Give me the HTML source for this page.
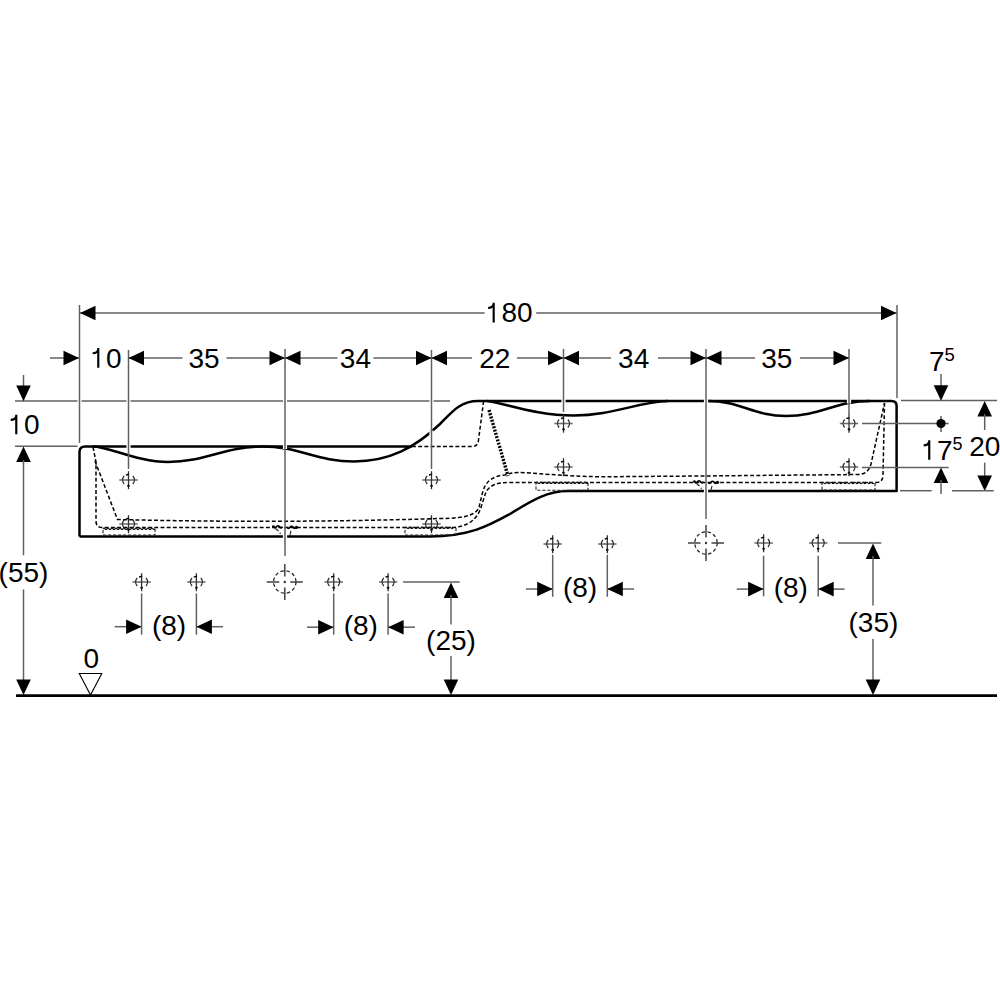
<!DOCTYPE html>
<html><head><meta charset="utf-8"><style>
html,body{margin:0;padding:0;background:#fff;}
svg{display:block;}
text{font-family:"Liberation Sans",sans-serif;fill:#000;}
</style></head><body>
<svg width="1000" height="1000" viewBox="0 0 1000 1000">
<rect width="1000" height="1000" fill="#fff"/>
<path d="M79.5,536.5 V452 Q79.5,446.5 85,446.5 H412 M354,461.5 C389,461.5 415,447.75 440,424 C452,412 460,401 478,401 H891.5 Q896.6,401 896.6,406 V491 H568 C548,491 533,499.5 510,514 C490,525 470,536.5 430,536.5 H79.5" fill="none" stroke="#000" stroke-width="2.5" stroke-linejoin="round"/>
<path d="M93,446.5 C108,446.5 138,462 168,462 M168,462 C205.6,462 224.4,446.5 262,446.5 M262,446.5 C298.8,446.5 317.2,461.5 354,461.5 M487,401 C505,403 535,415.5 574,415.5 C612,415.5 638,402 668,401 M708,401 C739.2,401 754.8,416 786,416 M786,416 C819.6,416 836.4,401 870,401 " fill="none" stroke="#000" stroke-width="2.5"/>
<path d="M93,447 L96,462 V521 Q96,527.5 102.5,527.5 H450 C462,527.5 470,524 476,517 C481,511 483,500 486,492 C490,485 497,482.5 510,482.5 H876 Q883,482.5 883,475 L884.5,403" stroke="#000" stroke-width="1.5" fill="none" stroke-dasharray="3.9 2.3"/>
<path d="M95,461 L117.5,519.5 Q280,523.5 440,518.5 C470,518.5 477,513 479,507 C481,500 482,492 485,486 C489,479 496,475.5 505,475 C510,473.5 513,472.5 518,472.5 C530,472.5 560,476 600,476.8 L700,476 L858,474.5 C865,474.5 869,471 871,464 L884.5,403" stroke="#000" stroke-width="1.5" fill="none" stroke-dasharray="3.9 2.3"/>
<path d="M412,446.5 H472 Q478,446.5 478.5,440 L483.5,402" stroke="#000" stroke-width="1.5" fill="none" stroke-dasharray="3.9 2.3"/>
<path d="M489,410 L508,476" stroke="#000" stroke-width="3.4" stroke-dasharray="2 1.4" fill="none"/>
<path d="M155,528.8 V535 H103 V528.8" stroke="#222" stroke-width="1.1" fill="none" stroke-dasharray="3.2 1.8"/>
<path d="M103,528.8 q1,-1.3 2,0 t2,0 t2,0 t2,0 t2,0 t2,0 t2,0 t2,0 t2,0 t2,0 t2,0 t2,0 t2,0 t2,0 t2,0 t2,0 t2,0 t2,0 t2,0 t2,0 t2,0 t2,0 t2,0 t2,0 t2,0 t2,0" stroke="#1a1a1a" stroke-width="1.2" fill="none"/>
<path d="M456,527.8 V535 H405 V527.8" stroke="#222" stroke-width="1.1" fill="none" stroke-dasharray="3.2 1.8"/>
<path d="M405,527.8 q1,-1.3 2,0 t2,0 t2,0 t2,0 t2,0 t2,0 t2,0 t2,0 t2,0 t2,0 t2,0 t2,0 t2,0 t2,0 t2,0 t2,0 t2,0 t2,0 t2,0 t2,0 t2,0 t2,0 t2,0 t2,0" stroke="#1a1a1a" stroke-width="1.2" fill="none"/>
<path d="M588,482.8 V490.3 H536 V482.8" stroke="#222" stroke-width="1.1" fill="none" stroke-dasharray="3.2 1.8"/>
<path d="M536,482.8 q1,-1.3 2,0 t2,0 t2,0 t2,0 t2,0 t2,0 t2,0 t2,0 t2,0 t2,0 t2,0 t2,0 t2,0 t2,0 t2,0 t2,0 t2,0 t2,0 t2,0 t2,0 t2,0 t2,0 t2,0 t2,0 t2,0 t2,0" stroke="#1a1a1a" stroke-width="1.2" fill="none"/>
<path d="M875,483 V490 H822 V483" stroke="#222" stroke-width="1.1" fill="none" stroke-dasharray="3.2 1.8"/>
<path d="M822,483 q1,-1.3 2,0 t2,0 t2,0 t2,0 t2,0 t2,0 t2,0 t2,0 t2,0 t2,0 t2,0 t2,0 t2,0 t2,0 t2,0 t2,0 t2,0 t2,0 t2,0 t2,0 t2,0 t2,0 t2,0 t2,0 t2,0 t2,0" stroke="#1a1a1a" stroke-width="1.2" fill="none"/>
<path d="M273.5,526.8 q1.5,2.2 3,0 t3,0 t3,0 M287,527.3 q1.5,2.2 3,0 t3,0 t3,0" stroke="#000" stroke-width="1.6" fill="none"/>
<circle cx="273.4" cy="526.5999999999999" r="1.4" fill="#000"/><circle cx="296.5" cy="527.3" r="1.6" fill="#000"/>
<path d="M275.5,528.5 l3,2.5 M291,530.8 l-1.2,5 M279.5,533.3 h1.5" stroke="#222" stroke-width="1.1" fill="none"/>
<path d="M694.5,481.8 q1.5,2.2 3,0 t3,0 t3,0 M708,482.3 q1.5,2.2 3,0 t3,0 t3,0" stroke="#000" stroke-width="1.6" fill="none"/>
<circle cx="694.4" cy="481.6" r="1.4" fill="#000"/><circle cx="717.5" cy="482.3" r="1.6" fill="#000"/>
<path d="M696.5,483.5 l3,2.5 M712,485.8 l-1.2,5 M700.5,488.3 h1.5" stroke="#222" stroke-width="1.1" fill="none"/>
<line x1="119.3" y1="480" x2="137.7" y2="480" stroke="#707070" stroke-width="1.6" />
<line x1="128.5" y1="471.2" x2="128.5" y2="489.2" stroke="#333" stroke-width="1.3" />
<path d="M124.12,476.05 A5.9,5.9 0 0 0 124.12,483.95 M132.88,476.05 A5.9,5.9 0 0 1 132.88,483.95" stroke="#2a2a2a" stroke-width="1.3" fill="none"/>
<path d="M125.90,474.90 L129.10,474.30" stroke="#111" stroke-width="1.5"/>
<path d="M128.5,484.2 l1.6,1.6 l-1.6,1.6 l-1.6,-1.6 z" fill="#111"/>
<line x1="119.3" y1="524" x2="137.7" y2="524" stroke="#707070" stroke-width="1.6" />
<line x1="128.5" y1="515.1999999999999" x2="128.5" y2="533.2" stroke="#333" stroke-width="1.3" />
<path d="M124.12,520.05 A5.9,5.9 0 0 0 124.12,527.95 M132.88,520.05 A5.9,5.9 0 0 1 132.88,527.95" stroke="#2a2a2a" stroke-width="1.3" fill="none"/>
<path d="M125.90,518.90 L129.10,518.30" stroke="#111" stroke-width="1.5"/>
<path d="M128.5,528.2 l1.6,1.6 l-1.6,1.6 l-1.6,-1.6 z" fill="#111"/>
<line x1="422.3" y1="480" x2="440.7" y2="480" stroke="#707070" stroke-width="1.6" />
<line x1="431.5" y1="471.2" x2="431.5" y2="489.2" stroke="#333" stroke-width="1.3" />
<path d="M427.12,476.05 A5.9,5.9 0 0 0 427.12,483.95 M435.88,476.05 A5.9,5.9 0 0 1 435.88,483.95" stroke="#2a2a2a" stroke-width="1.3" fill="none"/>
<path d="M428.90,474.90 L432.10,474.30" stroke="#111" stroke-width="1.5"/>
<path d="M431.5,484.2 l1.6,1.6 l-1.6,1.6 l-1.6,-1.6 z" fill="#111"/>
<line x1="422.3" y1="524" x2="440.7" y2="524" stroke="#707070" stroke-width="1.6" />
<line x1="431.5" y1="515.1999999999999" x2="431.5" y2="533.2" stroke="#333" stroke-width="1.3" />
<path d="M427.12,520.05 A5.9,5.9 0 0 0 427.12,527.95 M435.88,520.05 A5.9,5.9 0 0 1 435.88,527.95" stroke="#2a2a2a" stroke-width="1.3" fill="none"/>
<path d="M428.90,518.90 L432.10,518.30" stroke="#111" stroke-width="1.5"/>
<path d="M431.5,528.2 l1.6,1.6 l-1.6,1.6 l-1.6,-1.6 z" fill="#111"/>
<line x1="554.3" y1="423.5" x2="572.7" y2="423.5" stroke="#707070" stroke-width="1.6" />
<line x1="563.5" y1="414.7" x2="563.5" y2="432.7" stroke="#333" stroke-width="1.3" />
<path d="M559.12,419.55 A5.9,5.9 0 0 0 559.12,427.45 M567.88,419.55 A5.9,5.9 0 0 1 567.88,427.45" stroke="#2a2a2a" stroke-width="1.3" fill="none"/>
<path d="M560.90,418.40 L564.10,417.80" stroke="#111" stroke-width="1.5"/>
<path d="M563.5,427.7 l1.6,1.6 l-1.6,1.6 l-1.6,-1.6 z" fill="#111"/>
<line x1="554.3" y1="467" x2="572.7" y2="467" stroke="#707070" stroke-width="1.6" />
<line x1="563.5" y1="458.2" x2="563.5" y2="476.2" stroke="#333" stroke-width="1.3" />
<path d="M559.12,463.05 A5.9,5.9 0 0 0 559.12,470.95 M567.88,463.05 A5.9,5.9 0 0 1 567.88,470.95" stroke="#2a2a2a" stroke-width="1.3" fill="none"/>
<path d="M560.90,461.90 L564.10,461.30" stroke="#111" stroke-width="1.5"/>
<path d="M563.5,471.2 l1.6,1.6 l-1.6,1.6 l-1.6,-1.6 z" fill="#111"/>
<line x1="839.8" y1="423.5" x2="858.2" y2="423.5" stroke="#707070" stroke-width="1.6" />
<line x1="849" y1="414.7" x2="849" y2="432.7" stroke="#333" stroke-width="1.3" />
<path d="M844.62,419.55 A5.9,5.9 0 0 0 844.62,427.45 M853.38,419.55 A5.9,5.9 0 0 1 853.38,427.45" stroke="#2a2a2a" stroke-width="1.3" fill="none"/>
<path d="M846.40,418.40 L849.60,417.80" stroke="#111" stroke-width="1.5"/>
<path d="M849,427.7 l1.6,1.6 l-1.6,1.6 l-1.6,-1.6 z" fill="#111"/>
<line x1="839.8" y1="467" x2="858.2" y2="467" stroke="#707070" stroke-width="1.6" />
<line x1="849" y1="458.2" x2="849" y2="476.2" stroke="#333" stroke-width="1.3" />
<path d="M844.62,463.05 A5.9,5.9 0 0 0 844.62,470.95 M853.38,463.05 A5.9,5.9 0 0 1 853.38,470.95" stroke="#2a2a2a" stroke-width="1.3" fill="none"/>
<path d="M846.40,461.90 L849.60,461.30" stroke="#111" stroke-width="1.5"/>
<path d="M849,471.2 l1.6,1.6 l-1.6,1.6 l-1.6,-1.6 z" fill="#111"/>
<line x1="132.4" y1="582" x2="150.79999999999998" y2="582" stroke="#707070" stroke-width="1.6" />
<line x1="141.6" y1="573.1999999999999" x2="141.6" y2="591.2" stroke="#333" stroke-width="1.3" />
<path d="M137.22,578.05 A5.9,5.9 0 0 0 137.22,585.95 M145.98,578.05 A5.9,5.9 0 0 1 145.98,585.95" stroke="#2a2a2a" stroke-width="1.3" fill="none"/>
<path d="M139.00,576.90 L142.20,576.30" stroke="#111" stroke-width="1.5"/>
<path d="M141.6,586.2 l1.6,1.6 l-1.6,1.6 l-1.6,-1.6 z" fill="#111"/>
<line x1="187.20000000000002" y1="582" x2="205.6" y2="582" stroke="#707070" stroke-width="1.6" />
<line x1="196.4" y1="573.1999999999999" x2="196.4" y2="591.2" stroke="#333" stroke-width="1.3" />
<path d="M192.02,578.05 A5.9,5.9 0 0 0 192.02,585.95 M200.78,578.05 A5.9,5.9 0 0 1 200.78,585.95" stroke="#2a2a2a" stroke-width="1.3" fill="none"/>
<path d="M193.80,576.90 L197.00,576.30" stroke="#111" stroke-width="1.5"/>
<path d="M196.4,586.2 l1.6,1.6 l-1.6,1.6 l-1.6,-1.6 z" fill="#111"/>
<line x1="324.5" y1="582" x2="342.9" y2="582" stroke="#707070" stroke-width="1.6" />
<line x1="333.7" y1="573.1999999999999" x2="333.7" y2="591.2" stroke="#333" stroke-width="1.3" />
<path d="M329.32,578.05 A5.9,5.9 0 0 0 329.32,585.95 M338.08,578.05 A5.9,5.9 0 0 1 338.08,585.95" stroke="#2a2a2a" stroke-width="1.3" fill="none"/>
<path d="M331.10,576.90 L334.30,576.30" stroke="#111" stroke-width="1.5"/>
<path d="M333.7,586.2 l1.6,1.6 l-1.6,1.6 l-1.6,-1.6 z" fill="#111"/>
<line x1="378.90000000000003" y1="582" x2="397.3" y2="582" stroke="#707070" stroke-width="1.6" />
<line x1="388.1" y1="573.1999999999999" x2="388.1" y2="591.2" stroke="#333" stroke-width="1.3" />
<path d="M383.72,578.05 A5.9,5.9 0 0 0 383.72,585.95 M392.48,578.05 A5.9,5.9 0 0 1 392.48,585.95" stroke="#2a2a2a" stroke-width="1.3" fill="none"/>
<path d="M385.50,576.90 L388.70,576.30" stroke="#111" stroke-width="1.5"/>
<path d="M388.1,586.2 l1.6,1.6 l-1.6,1.6 l-1.6,-1.6 z" fill="#111"/>
<line x1="543.5" y1="544" x2="561.9000000000001" y2="544" stroke="#707070" stroke-width="1.6" />
<line x1="552.7" y1="535.1999999999999" x2="552.7" y2="553.2" stroke="#333" stroke-width="1.3" />
<path d="M548.32,540.05 A5.9,5.9 0 0 0 548.32,547.95 M557.08,540.05 A5.9,5.9 0 0 1 557.08,547.95" stroke="#2a2a2a" stroke-width="1.3" fill="none"/>
<path d="M550.10,538.90 L553.30,538.30" stroke="#111" stroke-width="1.5"/>
<path d="M552.7,548.2 l1.6,1.6 l-1.6,1.6 l-1.6,-1.6 z" fill="#111"/>
<line x1="598.0999999999999" y1="544" x2="616.5" y2="544" stroke="#707070" stroke-width="1.6" />
<line x1="607.3" y1="535.1999999999999" x2="607.3" y2="553.2" stroke="#333" stroke-width="1.3" />
<path d="M602.92,540.05 A5.9,5.9 0 0 0 602.92,547.95 M611.68,540.05 A5.9,5.9 0 0 1 611.68,547.95" stroke="#2a2a2a" stroke-width="1.3" fill="none"/>
<path d="M604.70,538.90 L607.90,538.30" stroke="#111" stroke-width="1.5"/>
<path d="M607.3,548.2 l1.6,1.6 l-1.6,1.6 l-1.6,-1.6 z" fill="#111"/>
<line x1="754.4" y1="543" x2="772.8000000000001" y2="543" stroke="#707070" stroke-width="1.6" />
<line x1="763.6" y1="534.1999999999999" x2="763.6" y2="552.2" stroke="#333" stroke-width="1.3" />
<path d="M759.22,539.05 A5.9,5.9 0 0 0 759.22,546.95 M767.98,539.05 A5.9,5.9 0 0 1 767.98,546.95" stroke="#2a2a2a" stroke-width="1.3" fill="none"/>
<path d="M761.00,537.90 L764.20,537.30" stroke="#111" stroke-width="1.5"/>
<path d="M763.6,547.2 l1.6,1.6 l-1.6,1.6 l-1.6,-1.6 z" fill="#111"/>
<line x1="809.0" y1="543" x2="827.4000000000001" y2="543" stroke="#707070" stroke-width="1.6" />
<line x1="818.2" y1="534.1999999999999" x2="818.2" y2="552.2" stroke="#333" stroke-width="1.3" />
<path d="M813.82,539.05 A5.9,5.9 0 0 0 813.82,546.95 M822.58,539.05 A5.9,5.9 0 0 1 822.58,546.95" stroke="#2a2a2a" stroke-width="1.3" fill="none"/>
<path d="M815.60,537.90 L818.80,537.30" stroke="#111" stroke-width="1.5"/>
<path d="M818.2,547.2 l1.6,1.6 l-1.6,1.6 l-1.6,-1.6 z" fill="#111"/>
<line x1="266.8" y1="582" x2="279.3" y2="582" stroke="#333" stroke-width="1.4" />
<line x1="284.8" y1="564" x2="284.8" y2="576.5" stroke="#333" stroke-width="1.4" />
<line x1="290.3" y1="582" x2="302.8" y2="582" stroke="#333" stroke-width="1.4" />
<line x1="284.8" y1="587.5" x2="284.8" y2="600" stroke="#333" stroke-width="1.4" />
<circle cx="284.8" cy="582" r="11.2" fill="none" stroke="#222" stroke-width="1.25" stroke-dasharray="3.5 2.5"/>
<circle cx="284.8" cy="582" r="1.2" fill="#333"/>
<line x1="688" y1="543" x2="700.5" y2="543" stroke="#333" stroke-width="1.4" />
<line x1="706" y1="525" x2="706" y2="537.5" stroke="#333" stroke-width="1.4" />
<line x1="711.5" y1="543" x2="724" y2="543" stroke="#333" stroke-width="1.4" />
<line x1="706" y1="548.5" x2="706" y2="561" stroke="#333" stroke-width="1.4" />
<circle cx="706" cy="543" r="11.2" fill="none" stroke="#222" stroke-width="1.25" stroke-dasharray="3.5 2.5"/>
<circle cx="706" cy="543" r="1.2" fill="#333"/>
<rect x="282.9" y="444.0" width="4.2" height="5" fill="#fff"/>
<rect x="282.9" y="534.0" width="4.2" height="5" fill="#fff"/>
<rect x="703.9" y="398.5" width="4.2" height="5" fill="#fff"/>
<rect x="703.9" y="488.5" width="4.2" height="5" fill="#fff"/>
<rect x="561.4" y="398.5" width="4.2" height="5" fill="#fff"/>
<rect x="846.9" y="398.5" width="4.2" height="5" fill="#fff"/>
<rect x="126.4" y="444.0" width="4.2" height="5" fill="#fff"/>
<rect x="429.4" y="430.5" width="4.2" height="5" fill="#fff"/>
<line x1="79.5" y1="305" x2="79.5" y2="443" stroke="#606060" stroke-width="1.5" />
<line x1="897" y1="305" x2="897" y2="398" stroke="#606060" stroke-width="1.5" />
<line x1="79.5" y1="313" x2="484.6" y2="313" stroke="#606060" stroke-width="1.5" />
<line x1="536.2" y1="313" x2="897" y2="313" stroke="#606060" stroke-width="1.5" />
<polygon points="80.00,313.00 95.50,305.70 95.50,320.30" fill="#000"/>
<polygon points="896.50,313.00 881.00,305.70 881.00,320.30" fill="#000"/>
<path d="M493.69,322.4 V302.80 M493.69,303.80 C493.09,306.80 490.89,307.90 488.09,308.00" stroke="#000" stroke-width="2.15" fill="none"/>
<text x="501.41" y="322.4" font-size="28">8</text>
<text x="516.99" y="322.4" font-size="28">0</text>
<line x1="50" y1="358" x2="79" y2="358" stroke="#606060" stroke-width="1.5" />
<polygon points="79.00,358.00 63.50,350.70 63.50,365.30" fill="#000"/>
<path d="M98.28,367.7 V348.10 M98.28,349.10 C97.68,352.10 95.48,353.20 92.68,353.30" stroke="#000" stroke-width="2.15" fill="none"/>
<text x="106.00" y="367.7" font-size="28">0</text>
<line x1="15" y1="401" x2="77.5" y2="401" stroke="#606060" stroke-width="1.5" />
<line x1="81.5" y1="401" x2="450" y2="401" stroke="#606060" stroke-width="1.5" />
<rect x="126.5" y="399" width="4" height="4" fill="#fff"/>
<rect x="283" y="399" width="4" height="4" fill="#fff"/>
<rect x="429.5" y="399" width="4" height="4" fill="#fff"/>
<line x1="128.5" y1="350" x2="128.5" y2="469" stroke="#606060" stroke-width="1.5" />
<line x1="285" y1="349" x2="285" y2="556" stroke="#606060" stroke-width="1.5" />
<line x1="431.5" y1="350" x2="431.5" y2="469" stroke="#606060" stroke-width="1.5" />
<line x1="563.5" y1="349" x2="563.5" y2="412" stroke="#606060" stroke-width="1.5" />
<line x1="706" y1="349" x2="706" y2="519" stroke="#606060" stroke-width="1.5" />
<line x1="849" y1="349" x2="849" y2="415" stroke="#606060" stroke-width="1.5" />
<line x1="128.5" y1="358" x2="182.4" y2="358" stroke="#606060" stroke-width="1.5" />
<line x1="226.4" y1="358" x2="285" y2="358" stroke="#606060" stroke-width="1.5" />
<polygon points="128.50,358.00 144.00,350.70 144.00,365.30" fill="#000"/>
<polygon points="285.00,358.00 269.50,350.70 269.50,365.30" fill="#000"/>
<text x="204" y="367.5" font-size="28" text-anchor="middle">35</text>
<line x1="285" y1="358" x2="337.4" y2="358" stroke="#606060" stroke-width="1.5" />
<line x1="373.4" y1="358" x2="431.5" y2="358" stroke="#606060" stroke-width="1.5" />
<polygon points="285.00,358.00 300.50,350.70 300.50,365.30" fill="#000"/>
<polygon points="431.50,358.00 416.00,350.70 416.00,365.30" fill="#000"/>
<text x="355.4" y="367.5" font-size="28" text-anchor="middle">34</text>
<line x1="431.5" y1="358" x2="472" y2="358" stroke="#606060" stroke-width="1.5" />
<line x1="517" y1="358" x2="563.5" y2="358" stroke="#606060" stroke-width="1.5" />
<polygon points="431.50,358.00 447.00,350.70 447.00,365.30" fill="#000"/>
<polygon points="563.50,358.00 548.00,350.70 548.00,365.30" fill="#000"/>
<text x="494.8" y="367.5" font-size="28" text-anchor="middle">22</text>
<line x1="563.5" y1="358" x2="611" y2="358" stroke="#606060" stroke-width="1.5" />
<line x1="658" y1="358" x2="706" y2="358" stroke="#606060" stroke-width="1.5" />
<polygon points="563.50,358.00 579.00,350.70 579.00,365.30" fill="#000"/>
<polygon points="706.00,358.00 690.50,350.70 690.50,365.30" fill="#000"/>
<text x="633.7" y="367.5" font-size="28" text-anchor="middle">34</text>
<line x1="706" y1="358" x2="755" y2="358" stroke="#606060" stroke-width="1.5" />
<line x1="800" y1="358" x2="849" y2="358" stroke="#606060" stroke-width="1.5" />
<polygon points="706.00,358.00 721.50,350.70 721.50,365.30" fill="#000"/>
<polygon points="849.00,358.00 833.50,350.70 833.50,365.30" fill="#000"/>
<text x="776.8" y="367.5" font-size="28" text-anchor="middle">35</text>
<line x1="23.5" y1="375" x2="23.5" y2="401" stroke="#606060" stroke-width="1.5" />
<polygon points="23.50,401.00 16.20,385.50 30.80,385.50" fill="#000"/>
<path d="M16.28,434.3 V414.70 M16.28,415.70 C15.68,418.70 13.48,419.80 10.68,419.90" stroke="#000" stroke-width="2.15" fill="none"/>
<text x="24.00" y="434.3" font-size="28">0</text>
<line x1="15" y1="446.3" x2="77.5" y2="446.3" stroke="#606060" stroke-width="1.5" />
<polygon points="23.50,446.50 16.20,462.00 30.80,462.00" fill="#000"/>
<line x1="23.5" y1="460" x2="23.5" y2="555.3" stroke="#606060" stroke-width="1.5" />
<text x="23.5" y="582.3" font-size="28" text-anchor="middle">(55)</text>
<line x1="23.5" y1="589.5" x2="23.5" y2="682" stroke="#606060" stroke-width="1.5" />
<polygon points="23.50,695.00 16.20,679.50 30.80,679.50" fill="#000"/>
<line x1="16" y1="695.6" x2="997" y2="695.6" stroke="#000" stroke-width="2.6" />
<text x="91.2" y="668" font-size="28" text-anchor="middle">0</text>
<polygon points="79.3,673.5 101.8,673.5 90.5,695" fill="#fff" stroke="#000" stroke-width="1.1"/>
<line x1="901" y1="400.6" x2="997" y2="400.6" stroke="#606060" stroke-width="1.5" />
<text x="929" y="370.6" font-size="28" text-anchor="start">7</text>
<text x="944.6" y="361.3" font-size="18.5" text-anchor="start">5</text>
<line x1="941" y1="374" x2="941" y2="388" stroke="#606060" stroke-width="1.5" />
<polygon points="941.00,400.80 933.70,385.30 948.30,385.30" fill="#000"/>
<line x1="862" y1="423.5" x2="948.7" y2="423.5" stroke="#606060" stroke-width="1.5" />
<line x1="941" y1="416" x2="941" y2="432" stroke="#606060" stroke-width="1.5" />
<circle cx="941" cy="423.5" r="4.6" fill="#000"/>
<path d="M929.25,459.8 V440.20 M929.25,441.20 C928.65,444.20 926.45,445.30 923.65,445.40" stroke="#000" stroke-width="2.15" fill="none"/>
<text x="936.97" y="459.8" font-size="28">7</text>
<text x="952.6" y="450.2" font-size="18" text-anchor="start">5</text>
<text x="969.3" y="456.4" font-size="28" text-anchor="start">20</text>
<polygon points="984.70,401.00 977.40,416.50 992.00,416.50" fill="#000"/>
<line x1="984.7" y1="414" x2="984.7" y2="430" stroke="#606060" stroke-width="1.5" />
<line x1="984.7" y1="462.6" x2="984.7" y2="478" stroke="#606060" stroke-width="1.5" />
<polygon points="984.70,491.00 977.40,475.50 992.00,475.50" fill="#000"/>
<line x1="862" y1="467.4" x2="948.7" y2="467.4" stroke="#606060" stroke-width="1.5" />
<polygon points="941.00,467.50 933.70,483.00 948.30,483.00" fill="#000"/>
<line x1="941" y1="480" x2="941" y2="494" stroke="#606060" stroke-width="1.5" />
<line x1="900" y1="490.7" x2="931.7" y2="490.7" stroke="#606060" stroke-width="1.5" />
<line x1="952" y1="490.7" x2="993.7" y2="490.7" stroke="#606060" stroke-width="1.5" />
<line x1="141.6" y1="593.4" x2="141.6" y2="634.7" stroke="#606060" stroke-width="1.5" />
<line x1="196.4" y1="593.4" x2="196.4" y2="634.7" stroke="#606060" stroke-width="1.5" />
<line x1="114.7" y1="626.7" x2="141.6" y2="626.7" stroke="#606060" stroke-width="1.5" />
<polygon points="141.60,626.70 126.10,619.40 126.10,634.00" fill="#000"/>
<line x1="196.4" y1="626.7" x2="223" y2="626.7" stroke="#606060" stroke-width="1.5" />
<polygon points="196.40,626.70 211.90,619.40 211.90,634.00" fill="#000"/>
<text x="169" y="634.8" font-size="28" text-anchor="middle">(8)</text>
<line x1="333.7" y1="593.4" x2="333.7" y2="634.7" stroke="#606060" stroke-width="1.5" />
<line x1="388.1" y1="593.4" x2="388.1" y2="634.7" stroke="#606060" stroke-width="1.5" />
<line x1="307" y1="627.2" x2="333.7" y2="627.2" stroke="#606060" stroke-width="1.5" />
<polygon points="333.70,627.20 318.20,619.90 318.20,634.50" fill="#000"/>
<line x1="388.1" y1="627.2" x2="415" y2="627.2" stroke="#606060" stroke-width="1.5" />
<polygon points="388.10,627.20 403.60,619.90 403.60,634.50" fill="#000"/>
<text x="360.8" y="635.2" font-size="28" text-anchor="middle">(8)</text>
<line x1="552.7" y1="554.8" x2="552.7" y2="596.8" stroke="#606060" stroke-width="1.5" />
<line x1="607.3" y1="554.8" x2="607.3" y2="596.8" stroke="#606060" stroke-width="1.5" />
<line x1="526" y1="589" x2="552.7" y2="589" stroke="#606060" stroke-width="1.5" />
<polygon points="552.70,589.00 537.20,581.70 537.20,596.30" fill="#000"/>
<line x1="607.3" y1="589" x2="634" y2="589" stroke="#606060" stroke-width="1.5" />
<polygon points="607.30,589.00 622.80,581.70 622.80,596.30" fill="#000"/>
<text x="580" y="597" font-size="28" text-anchor="middle">(8)</text>
<line x1="763.6" y1="555.7" x2="763.6" y2="596.4" stroke="#606060" stroke-width="1.5" />
<line x1="818.2" y1="555.7" x2="818.2" y2="596.4" stroke="#606060" stroke-width="1.5" />
<line x1="736.8" y1="589.1" x2="763.6" y2="589.1" stroke="#606060" stroke-width="1.5" />
<polygon points="763.60,589.10 748.10,581.80 748.10,596.40" fill="#000"/>
<line x1="818.2" y1="589.1" x2="844.6" y2="589.1" stroke="#606060" stroke-width="1.5" />
<polygon points="818.20,589.10 833.70,581.80 833.70,596.40" fill="#000"/>
<text x="790.8" y="597.1" font-size="28" text-anchor="middle">(8)</text>
<line x1="403" y1="582" x2="459.7" y2="582" stroke="#606060" stroke-width="1.5" />
<polygon points="451.00,582.50 443.70,598.00 458.30,598.00" fill="#000"/>
<line x1="451" y1="595" x2="451" y2="624.5" stroke="#606060" stroke-width="1.5" />
<text x="451" y="650.1" font-size="28" text-anchor="middle">(25)</text>
<line x1="451" y1="656" x2="451" y2="683" stroke="#606060" stroke-width="1.5" />
<polygon points="451.00,695.00 443.70,679.50 458.30,679.50" fill="#000"/>
<line x1="838" y1="543" x2="881.3" y2="543" stroke="#606060" stroke-width="1.5" />
<polygon points="873.00,543.50 865.70,559.00 880.30,559.00" fill="#000"/>
<line x1="873" y1="556" x2="873" y2="605.4" stroke="#606060" stroke-width="1.5" />
<text x="873.4" y="631.8" font-size="28" text-anchor="middle">(35)</text>
<line x1="873" y1="639" x2="873" y2="684" stroke="#606060" stroke-width="1.5" />
<polygon points="873.00,695.00 865.70,679.50 880.30,679.50" fill="#000"/>
</svg></body></html>
